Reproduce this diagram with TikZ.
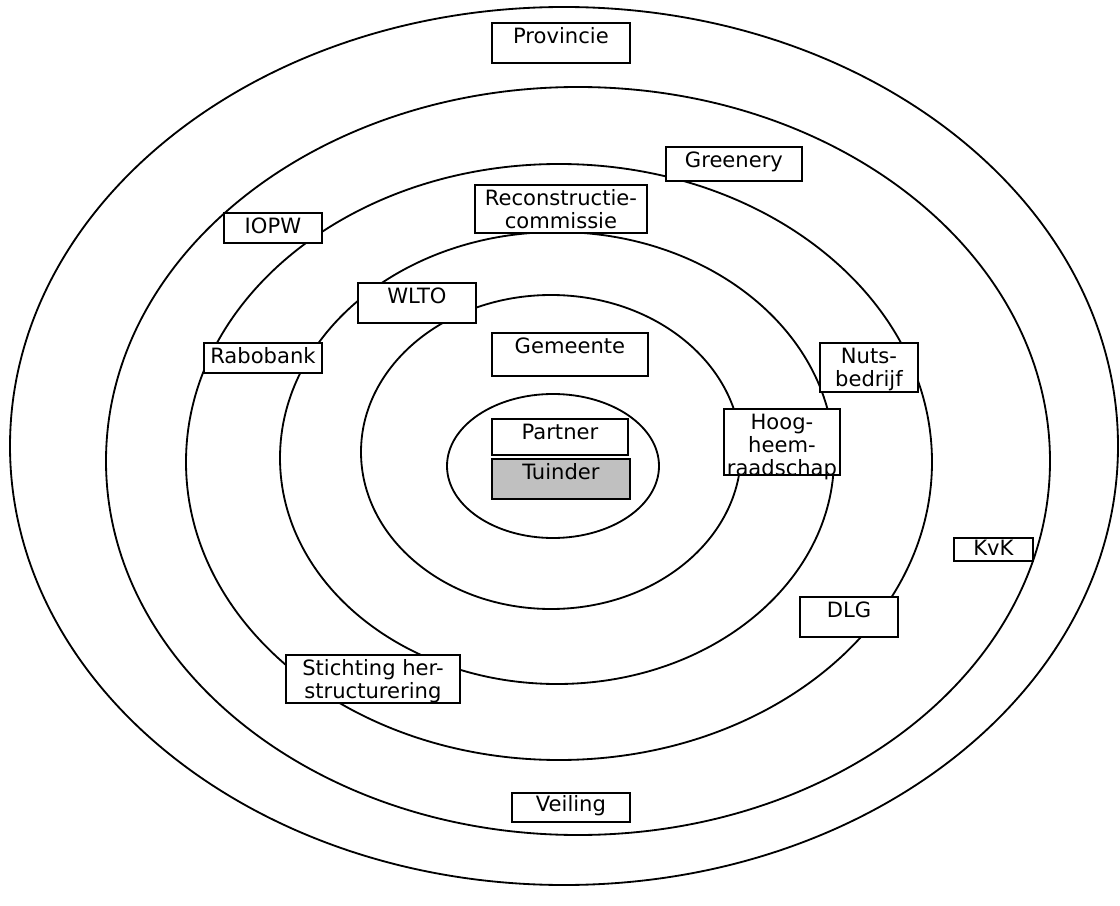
\documentclass[tikz,border=0pt]{standalone}
\usepackage{fontspec}
\setmainfont{DejaVu Sans}
\usepackage{xcolor}
\definecolor{tuingrey}{RGB}{192,192,192}

\begin{document}
\begin{tikzpicture}[x=0.025cm,y=-0.025cm]
\tikzstyle{ring}=[line width=1.3pt]
\tikzstyle{actor}=[draw, fill=white, line width=1.3pt, anchor=north west, inner sep=0pt]
\tikzset{tag/.style={anchor=north, align=center, inner xsep=2pt, inner ysep=4pt,
  font=\fontsize{15pt}{16.4pt}\selectfont}}

\useasboundingbox (0,0) rectangle (1120,906);

% rings, outside in
\draw[ring] (564,446) ellipse [x radius=554, y radius=439];
\draw[ring] (578,461) ellipse [x radius=472, y radius=374];
\draw[ring] (559,462) ellipse [x radius=373, y radius=298];
\draw[ring] (557,458) ellipse [x radius=277, y radius=226];
\draw[ring] (551,452) ellipse [x radius=190, y radius=157];
\draw[ring] (553,466) ellipse [x radius=106, y radius=72];

% actors
\node[actor, minimum width=3.45cm, minimum height=1cm, label={[tag]north:Provincie}] (prov) at (491,22) {};
\node[actor, minimum width=3.4cm, minimum height=0.85cm, label={[tag]north:Greenery}] (green) at (665,146) {};
\node[actor, minimum width=4.3cm, minimum height=1.2cm, label={[tag]north:Reconstructie-\\commissie}] (recon) at (474,184) {};
\node[actor, minimum width=2.45cm, minimum height=0.75cm, label={[tag]north:IOPW}] (iopw) at (223,212) {};
\node[actor, minimum width=2.95cm, minimum height=1cm, label={[tag]north:WLTO}] (wlto) at (357,282) {};
\node[actor, minimum width=2.95cm, minimum height=0.75cm, label={[tag]north:Rabobank}] (rabo) at (203,342) {};
\node[actor, minimum width=3.9cm, minimum height=1.075cm, label={[tag]north:Gemeente}] (gem) at (491,332) {};
\node[actor, minimum width=2.45cm, minimum height=1.225cm, label={[tag]north:Nuts-\\bedrijf}] (nuts) at (819,342) {};
\node[actor, minimum width=2.9cm, minimum height=1.65cm, label={[tag]north:Hoog-\\heem-\\raadschap}] (hoog) at (723,408) {};
\node[actor, minimum width=3.4cm, minimum height=0.9cm, label={[tag]north:Partner}] (part) at (491,418) {};
\node[actor, fill=tuingrey, minimum width=3.45cm, minimum height=1cm, label={[tag]north:Tuinder}] (tuin) at (491,458) {};
\node[actor, minimum width=1.975cm, minimum height=0.575cm, label={[tag, inner ysep=2pt]north:KvK}] (kvk) at (953,537) {};
\node[actor, minimum width=2.45cm, minimum height=1cm, label={[tag]north:DLG}] (dlg) at (799,596) {};
\node[actor, minimum width=4.35cm, minimum height=1.2cm, label={[tag]north:Stichting her-\\structurering}] (stich) at (285,654) {};
\node[actor, minimum width=2.95cm, minimum height=0.725cm, label={[tag, inner ysep=2pt]north:Veiling}] (veil) at (511,792) {};
\end{tikzpicture}
\end{document}
